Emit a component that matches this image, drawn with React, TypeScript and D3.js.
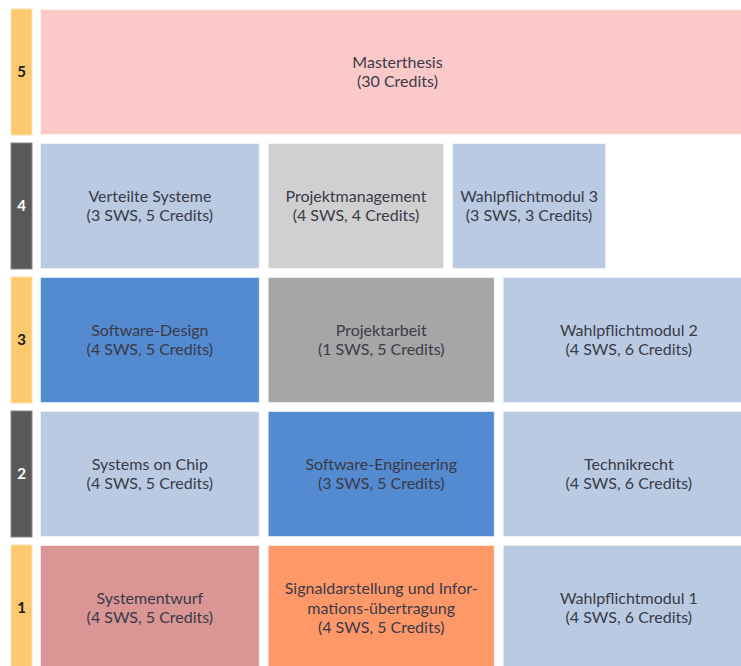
import React, { useEffect, useRef } from "react";
import * as d3 from "d3";

// semester rows, top to bottom
const semesters = [5, 4, 3, 2, 1];

// module names per semester (lines), SWS and credits
const moduleNames = [
  ["Masterthesis"],
  ["Verteilte Systeme"],
  ["Projektmanagement"],
  ["Wahlpflichtmodul 3"],
  ["Software-Design"],
  ["Projektarbeit"],
  ["Wahlpflichtmodul 2"],
  ["Systems on Chip"],
  ["Software-Engineering"],
  ["Technikrecht"],
  ["Systementwurf"],
  ["Signaldarstellung und Infor-", "mations-übertragung"],
  ["Wahlpflichtmodul 1"],
];
const moduleSemester = [5, 4, 4, 4, 3, 3, 3, 2, 2, 2, 1, 1, 1];
const moduleSws = [null, 3, 4, 3, 4, 1, 4, 4, 3, 4, 4, 4, 4];
const moduleCredits = [30, 5, 4, 3, 5, 5, 6, 5, 5, 6, 5, 5, 6];
const moduleKind = [
  "thesis", "elective", "mgmt", "elective",
  "core", "project", "elective",
  "elective", "core", "elective",
  "design", "signal", "elective",
];

// layout: share of the row each block covers (percent of row width)
const blockStart = [0, 0, 31.5, 57, 0, 31.5, 64, 0, 31.5, 64, 0, 31.5, 64];
const blockEnd = [100, 31.5, 57, 79.4, 31.5, 64, 100, 31.5, 64, 100, 31.5, 64, 100];

const kindColor: Record<string, string> = {
  thesis: "#fcc9c9",
  elective: "#b9cae2",
  mgmt: "#d0d0d0",
  core: "#538ad0",
  project: "#a6a6a6",
  design: "#d99694",
  signal: "#fe9869",
};

const W = 741;
const H = 666;

const App = () => {
  const svgRef = useRef(null);

  useEffect(() => {
    const svg = d3.select(svgRef.current);
    svg.selectAll("*").remove();

    const gap = 8;
    const y = d3
      .scaleBand<number>()
      .domain(semesters)
      .range([9, 9 + 4 * 134 + 126])
      .paddingInner(8 / 134)
      .paddingOuter(0);

    const x = d3.scaleLinear().domain([0, 100]).range([40, 763]);

    const fontFamily = "Lato, 'Open Sans', sans-serif";

    // semester markers on the left
    const marker = svg
      .append("g")
      .selectAll("g")
      .data(semesters)
      .join("g")
      .attr("transform", (d) => `translate(11, ${y(d)})`);

    marker
      .append("rect")
      .attr("width", 21)
      .attr("height", y.bandwidth())
      .attr("fill", (d) => (d % 2 ? "#fdc96f" : "#595959"))
      .attr("stroke", (d) => (d % 2 ? "#fde3b5" : "#8a8a8a"))
      .attr("stroke-width", 1);

    marker
      .append("text")
      .attr("x", 10.5)
      .attr("y", y.bandwidth() / 2)
      .attr("dy", "0.35em")
      .attr("text-anchor", "middle")
      .attr("font-family", fontFamily)
      .attr("font-weight", "bold")
      .attr("font-size", 15)
      .attr("fill", (d) => (d % 2 ? "#1a1a1a" : "#ffffff"))
      .text((d) => d);

    // module blocks
    const modules = moduleNames.map((name, i) => ({
      name,
      semester: moduleSemester[i],
      sws: moduleSws[i],
      credits: moduleCredits[i],
      kind: moduleKind[i],
      start: blockStart[i],
      end: blockEnd[i],
    }));

    const block = svg
      .append("g")
      .selectAll("g")
      .data(modules)
      .join("g")
      .attr("transform", (d) => `translate(${x(d.start)}, ${y(d.semester)})`);

    block
      .append("rect")
      .attr("x", 0.5)
      .attr("y", 0.5)
      .attr("width", (d) => x(d.end) - x(d.start) - gap - 1)
      .attr("height", y.bandwidth() - 1)
      .attr("fill", (d) => kindColor[d.kind])
      .attr("stroke", "#ffffff")
      .attr("stroke-opacity", 0.5)
      .attr("stroke-width", 1);

    block.each(function (d) {
      const lines = [
        ...d.name,
        d.sws == null ? `(${d.credits} Credits)` : `(${d.sws} SWS, ${d.credits} Credits)`,
      ];
      const lineH = 19.5;
      const cx = (x(d.end) - x(d.start) - gap) / 2;
      const cy = y.bandwidth() / 2 - ((lines.length - 1) * lineH) / 2;
      d3.select(this)
        .append("text")
        .attr("text-anchor", "middle")
        .attr("font-family", fontFamily)
        .attr("font-size", 16)
        .attr("fill", "#3a3a48")
        .selectAll("tspan")
        .data(lines)
        .join("tspan")
        .attr("x", cx)
        .attr("y", (_, i) => cy + i * lineH)
        .attr("dy", "0.35em")
        .text((t) => t);
    });
  }, []);

  return (
    <div
      style={{
        position: "fixed",
        left: 0,
        top: 0,
        width: W,
        height: H,
        overflow: "hidden",
        background: "#ffffff",
      }}
    >
      <svg ref={svgRef} width={W} height={H} style={{ display: "block" }} />
    </div>
  );
};

export default App;
